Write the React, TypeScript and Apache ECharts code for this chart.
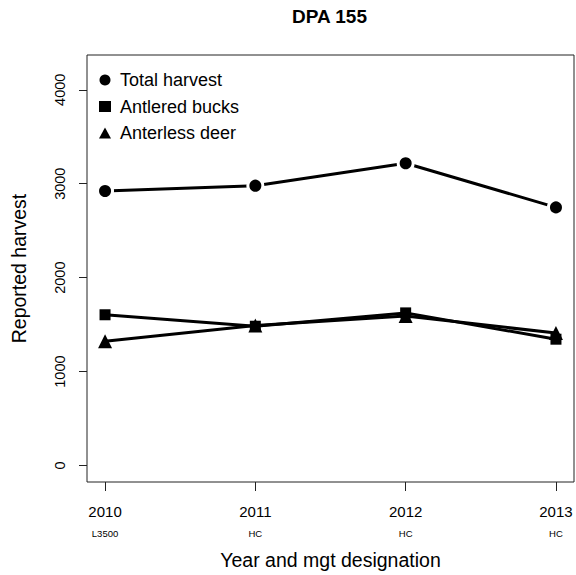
import React, { useEffect, useRef } from "react";
import * as echarts from "echarts";

const years = [2010, 2011, 2012, 2013];
const designations = ["L3500", "HC", "HC", "HC"];
const totalHarvest = [2923, 2979, 3218, 2748];
const antleredBucks = [1605, 1483, 1625, 1345];
const antlerlessDeer = [1322, 1490, 1592, 1410];
const yTicks = [0, 1000, 2000, 3000, 4000];

const FONT = "Liberation Sans, Arial, sans-serif";

const App: React.FC = () => {
  const chartRef = useRef<HTMLDivElement>(null);

  useEffect(() => {
    const chart = echarts.init(chartRef.current!, null, { renderer: "svg" });

    // white ring around a point gives the small gap R leaves with type = "b"
    const mkSeries = (name: string, values: number[], symbol: string, size: number, gap: number) => ({
      name,
      type: "line",
      data: years.map((y, i) => [y, values[i]]),
      symbol,
      symbolSize: size,
      showSymbol: true,
      color: "#000",
      lineStyle: { color: "#000", width: 3 },
      itemStyle: { color: "#000", borderColor: "#fff", borderWidth: gap },
      emphasis: { disabled: true },
    });

    const options = {
      animation: false,
      backgroundColor: "#fff",
      textStyle: { fontFamily: FONT, color: "#000" },
      title: {
        text: "DPA 155",
        left: 292,
        top: 7,
        padding: 0,
        textStyle: { fontFamily: FONT, fontSize: 19, fontWeight: "bold", color: "#000" },
      },
      legend: {
        orient: "vertical",
        left: 99,
        top: 70,
        itemWidth: 12,
        itemHeight: 11,
        itemGap: 6.5,
        padding: 0,
        selectedMode: false,
        itemStyle: { borderWidth: 0 },
        textStyle: { fontFamily: FONT, fontSize: 18, color: "#000", lineHeight: 20, padding: [0, 0, 0, 4] },
        data: [
          { name: "Total harvest", icon: "circle" },
          { name: "Antlered bucks", icon: "rect" },
          { name: "Anterless deer", icon: "triangle" },
        ],
      },
      grid: {
        show: true,
        left: 87,
        top: 55,
        right: 2,
        bottom: 93,
        borderColor: "#222",
        borderWidth: 1,
        backgroundColor: "transparent",
      },
      xAxis: {
        type: "value",
        min: 2009.88,
        max: 2013.12,
        name: "Year and mgt designation",
        nameLocation: "middle",
        nameGap: 68,
        nameTextStyle: { fontFamily: FONT, fontSize: 19.5, color: "#000" },
        axisLine: { show: false, onZero: false },
        splitLine: { show: false },
        axisTick: { show: true, length: 9, customValues: years, lineStyle: { color: "#222" } },
        axisLabel: {
          customValues: years,
          margin: 20,
          formatter: (v: number) => {
            const i = years.indexOf(Math.round(v));
            return `{a|${Math.round(v)}}\n{b|${designations[i] ?? ""}}`;
          },
          rich: {
            a: { fontFamily: FONT, fontSize: 15, color: "#000", lineHeight: 18 },
            b: { fontFamily: FONT, fontSize: 9.5, color: "#000", lineHeight: 26 },
          },
        },
      },
      yAxis: {
        type: "value",
        min: -175,
        max: 4370,
        name: "Reported harvest",
        nameLocation: "middle",
        nameGap: 58,
        nameTextStyle: { fontFamily: FONT, fontSize: 19.5, color: "#000" },
        axisLine: { show: false, onZero: false },
        splitLine: { show: false },
        axisTick: { show: true, length: 8, customValues: yTicks, lineStyle: { color: "#222" } },
        axisLabel: {
          customValues: yTicks,
          rotate: 90,
          margin: 20,
          fontFamily: FONT,
          fontSize: 14.5,
          color: "#000",
          formatter: (v: number) => String(Math.round(v)),
        },
      },
      series: [
        mkSeries("Total harvest", totalHarvest, "circle", 15, 3),
        mkSeries("Antlered bucks", antleredBucks, "rect", 11, 0),
        mkSeries("Anterless deer", antlerlessDeer, "triangle", 14, 0),
      ],
    };
    chart.setOption(options as any);

    return () => {
      chart.dispose();
    };
  }, []);

  return (
    <div
      ref={chartRef}
      style={{ position: "fixed", left: 0, top: 0, width: 576, height: 575 }}
    ></div>
  );
};

export default App;
